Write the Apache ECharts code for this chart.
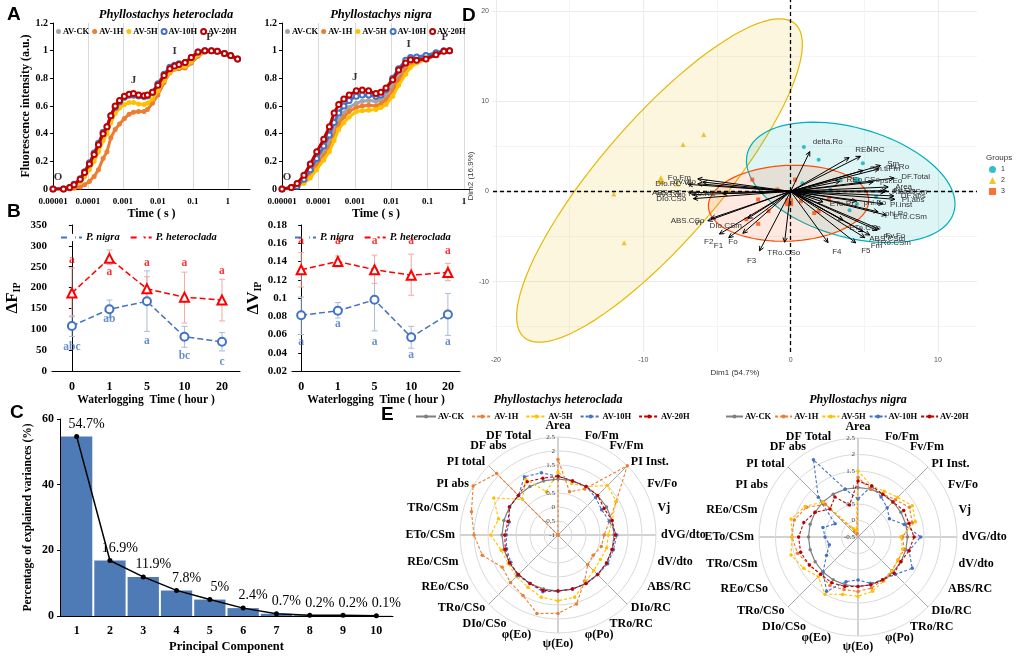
<!DOCTYPE html>
<html><head><meta charset="utf-8">
<script src="https://cdn.jsdelivr.net/npm/echarts@6/dist/echarts.min.js"></script>
<style>
html,body{margin:0;padding:0;background:#fff;}
#wrap{position:relative;width:1021px;height:657px;overflow:hidden;background:#fff;}
.layer{position:absolute;left:0;top:0;width:1021px;height:657px;}
.tag{position:absolute;font-family:'Liberation Sans',Arial,sans-serif;font-weight:bold;font-size:19px;line-height:19px;color:#000;}
</style></head><body>
<div id="wrap">
<div class="layer" id="cA1"></div>
<div class="layer" id="cA2"></div>
<div class="layer" id="cB1"></div>
<div class="layer" id="cB2"></div>
<div class="layer" id="cC"></div>
<div class="layer" id="cD"></div>
<div class="layer" id="cE1"></div>
<div class="layer" id="cE2"></div>
<div class="tag" style="left:7px;top:4px">A</div>
<div class="tag" style="left:7px;top:201px">B</div>
<div class="tag" style="left:10px;top:402px">C</div>
<div class="tag" style="left:462px;top:5px">D</div>
<div class="tag" style="left:381px;top:404px">E</div>
</div>
<script>
// ---------------- DATA ----------------
const treatments = ['AV-CK','AV-1H','AV-5H','AV-10H','AV-20H'];

// Panel A: OJIP transients (time in s, relative fluorescence)
const A_het_time = [1e-5,2e-5,3e-5,4e-5,6e-5,8e-5,1.1e-4,1.5e-4,2e-4,2.7e-4,3.5e-4,4.5e-4,6e-4,8e-4,1.1e-3,1.5e-3,2e-3,2.8e-3,4e-3,5e-3,7e-3,1e-2,1.5e-2,2.2e-2,3e-2,4e-2,6e-2,9e-2,0.14,0.22,0.34,0.5,0.8,1.2,1.9];
const A_het_CK  = [0,0,0.01,0.03,0.065,0.11,0.17,0.24,0.31,0.39,0.44,0.52,0.58,0.62,0.655,0.67,0.67,0.665,0.66,0.665,0.69,0.745,0.82,0.87,0.89,0.90,0.91,0.945,0.985,1.0,1.0,0.995,0.98,0.965,0.94];
const A_het_1H  = [0,0,0,0.005,0.015,0.03,0.055,0.09,0.14,0.22,0.27,0.37,0.43,0.47,0.51,0.54,0.555,0.56,0.56,0.575,0.62,0.68,0.77,0.84,0.865,0.87,0.875,0.91,0.96,0.99,1.0,0.995,0.98,0.96,0.935];
const A_het_5H  = [0,0,0.008,0.025,0.05,0.09,0.14,0.2,0.27,0.35,0.4,0.48,0.545,0.585,0.61,0.625,0.625,0.615,0.61,0.62,0.65,0.71,0.785,0.845,0.87,0.88,0.885,0.92,0.97,0.995,1.0,0.995,0.98,0.965,0.945];
const A_het_10H = [0,0,0.01,0.035,0.075,0.125,0.19,0.26,0.33,0.41,0.45,0.53,0.59,0.63,0.665,0.68,0.68,0.675,0.67,0.675,0.7,0.76,0.83,0.88,0.895,0.905,0.915,0.95,0.99,1.0,1.0,0.995,0.98,0.965,0.94];
const A_het_20H = [0,0,0.01,0.03,0.07,0.12,0.18,0.25,0.32,0.4,0.45,0.53,0.6,0.64,0.67,0.685,0.69,0.68,0.675,0.68,0.7,0.75,0.82,0.87,0.89,0.9,0.915,0.95,0.99,1.0,1.0,0.995,0.98,0.965,0.94];
const A_het_steps = [[1e-5,0,'O'],[2e-3,0.69,'J'],[3e-2,0.9,'I'],[0.3,1.0,'P']];

const A_nig_time = [1e-5,1.8e-5,2.6e-5,4e-5,6e-5,9e-5,1.4e-4,2e-4,2.7e-4,3.6e-4,5e-4,7e-4,1.1e-3,1.6e-3,2.4e-3,3.8e-3,5.2e-3,7.2e-3,1.1e-2,1.6e-2,2.5e-2,3.4e-2,5e-2,9e-2,0.17,0.28,0.4];
const A_nig_CK  = [0,0.01,0.02,0.06,0.12,0.19,0.27,0.34,0.42,0.5,0.55,0.59,0.62,0.635,0.64,0.635,0.645,0.68,0.75,0.83,0.89,0.92,0.94,0.955,0.98,0.995,1.0];
const A_nig_1H  = [0,0.01,0.02,0.05,0.1,0.17,0.24,0.3,0.38,0.47,0.52,0.56,0.59,0.6,0.605,0.6,0.615,0.645,0.71,0.79,0.86,0.9,0.92,0.94,0.97,0.995,1.0];
const A_nig_5H  = [0,0.01,0.02,0.04,0.08,0.14,0.21,0.27,0.35,0.43,0.48,0.52,0.56,0.565,0.57,0.575,0.59,0.61,0.67,0.75,0.83,0.88,0.91,0.935,0.97,0.995,1.0];
const A_nig_10H = [0,0.01,0.02,0.07,0.14,0.22,0.31,0.39,0.48,0.55,0.6,0.64,0.67,0.68,0.68,0.67,0.68,0.72,0.8,0.87,0.93,0.95,0.955,0.965,0.985,1.0,1.0];
const A_nig_20H = [0,0.01,0.04,0.1,0.18,0.27,0.36,0.45,0.55,0.61,0.65,0.68,0.71,0.715,0.71,0.69,0.7,0.73,0.79,0.86,0.91,0.935,0.93,0.94,0.97,0.995,1.0];
const A_nig_steps = [[1e-5,0,'O'],[1e-3,0.71,'J'],[3e-2,0.95,'I'],[0.3,1.0,'P']];

// Panel B
const B_hours = ['0','1','5','10','20'];
const F_nig = [108,148,167,82,70];
const F_nig_lo = [83,128,95,57,48];
const F_nig_hi = [130,170,240,107,92];
const F_nig_letters = ['abc','ab','a','bc','c'];
const F_nig_letterY = [58,125,72,36,22];
const F_het = [187,270,197,177,170];
const F_het_lo = [132,255,172,115,120];
const F_het_hi = [247,290,226,237,220];
const F_het_letters = ['a','a','a','a','a'];
const F_het_letterY = [266,237,259,259,240];

const V_nig = [0.081,0.086,0.098,0.057,0.082];
const V_nig_lo = [0.060,0.078,0.064,0.045,0.059];
const V_nig_hi = [0.101,0.095,0.132,0.069,0.105];
const V_nig_letters = ['a','a','a','a','a'];
const V_nig_letterY = [0.052,0.071,0.052,0.037,0.052];
const V_het = [0.131,0.140,0.131,0.125,0.128];
const V_het_lo = [0.112,0.134,0.116,0.103,0.119];
const V_het_hi = [0.150,0.146,0.147,0.148,0.138];
const V_het_letters = ['a','a','a','a','a'];
const V_het_letterY = [0.162,0.162,0.162,0.162,0.152];

// Panel C
const pcs = ['1','2','3','4','5','6','7','8','9','10'];
const explained = [54.7,16.9,11.9,7.8,5,2.4,0.7,0.2,0.2,0.1];

// Panel D: PCA biplot
const varNames = ['N','REo.RC','delta.Ro','Sm','phi.Ro','Sm.t.Fm','DF.Total','REo.CSo','psi.Eo','Area','Fv.Fm','REo.CSm','DF.abs','PI.abs','PI.inst','ETo.CSm','phi.Eo','phi.Po','Fv.Fo','Fv','TRo.CSm','Fm','F5','ABS.CSm','ETo.CSo','ETo.RC','F4','TRo.CSo','F3','Fo','F1','F2','Vi','ABS.CSo','DIo.CSm','DIo.RC','ABS.RC','dVG.dto','Fo.Fm','dV.dto','Vj','DIo.CSo','TRo.RC'];
const varX = [4.74,3.97,1.3,6.10,6.01,4.92,7.03,3.33,5.6,6.62,6.5,6.4,7.0,7.07,6.28,6.5,4.47,5.94,6.0,5.87,5.37,5.03,4.42,4.92,3.56,2.2,2.54,-0.41,-2.11,-3.24,-4.2,-4.83,-5.62,-5.4,-2.9,-6.94,-6.92,-6.64,-6.3,-5.96,-6.3,-6.6,-4.6];
const varY = [3.88,3.74,4.4,2.86,2.49,2.31,1.47,1.10,1.03,0.48,0.07,-0.07,-0.51,-0.88,-1.39,-2.64,-1.10,-2.27,-4.18,-4.32,-4.84,-5.13,-5.71,-4.47,-3.19,-1.17,-5.68,-5.64,-6.59,-4.65,-5.13,-4.73,-3.26,-3.0,-3.0,0.77,-0.15,-0.37,1.39,1.03,0.84,-0.81,-0.26];
const g1X = [0.9,1.9,4.9,0.8,3.4,4.5,4.0,2.7,5.8,1.5];
const g1Y = [4.9,3.5,3.1,0.9,1.2,-1.4,-2.1,0.2,-0.6,-0.2];
const g2X = [-5.9,-7.3,-7.7,-12.0,-11.3];
const g2Y = [6.3,5.2,0.8,-0.3,-5.7];
const g3X = [-2.6,0.3,-0.9,-2.2,-1.5,-3.0,-2.2,0.7,1.6,1.9,2.6,0.5];
const g3Y = [1.3,1.3,0.2,-0.9,-2.2,-3.1,-3.6,-1.1,-2.4,-2.2,-0.9,-0.4];
const groupMeans = [[4.5,1.2],[-8.8,1.3],[-0.1,-1.2]];
// ellipse: centre (x,y), semi-axis vector u, conjugate vector v (data units)
const ellipses = [
  [-8.9, 1.2, 9.18, 17.4, 3.13, -4.29],
  [4.08, 0.99, 7.0, -3.3, -1.05, -5.8],
  [-0.14, -1.32, 5.44, 0.3, 0.0, 4.2]
];

// Panel E: radar (axes listed clockwise from the top)
const E_het_axes = ['Area','Fo/Fm','Fv/Fm','PI Inst.','Fv/Fo','Vj','dVG/dto','dV/dto','ABS/RC','DIo/RC','TRo/RC','φ(Po)','ψ(Eo)','φ(Eo)','DIo/CSo','TRo/CSo','REo/CSo','REo/CSm','ETo/CSm','TRo/CSm','PI abs','PI total','DF abs','DF Total'];
const E_het_CK  = [1,1,1,1,1,1,1,1,1,1,1,1,1,1,1,1,1,1,1,1,1,1,1,1];
const E_het_1H  = [1.7,0.6,0.9,2.5,1.4,0.9,0.65,0.6,0.45,0.5,0.9,1.55,1.8,1.9,1.5,1.4,1.3,1.8,2.0,2.2,2.5,2.1,-1,-1];
const E_het_5H  = [1.25,0.9,1.0,1.5,1.4,1.0,0.8,0.8,0.75,0.8,0.95,1.3,1.35,1.3,1.15,1.1,1.05,1.1,1.4,1.2,1.65,0.8,1.3,0.6];
const E_het_10H = [1.1,1.0,1.0,0.9,0.8,0.9,1.1,1.05,1.05,1.0,1.0,1.0,1.0,1.1,1.0,1.05,0.95,0.9,0.85,0.8,1.0,1.0,1.4,1.3];
const E_het_20H = [1.1,1.0,1.0,1.0,0.9,1.0,1.05,1.0,1.0,1.0,1.0,1.0,1.0,1.05,1.0,1.0,1.0,0.95,0.9,0.85,1.0,1.0,1.2,1.1];

const E_nig_axes = ['Area','Fo/Fm','Fv/Fm','PI Inst.','Fv/Fo','Vj','dVG/dto','dV/dto','ABS/RC','DIo/RC','TRo/RC','φ(Po)','ψ(Eo)','φ(Eo)','DIo/CSo','TRo/CSo','REo/CSo','TRo/CSm','ETo/CSm','REo/CSm','PI abs','PI total','DF abs','DF Total'];
const E_nig_CK  = [1,1,1,1,1,1,1,1,1,1,1,1,1,1,1,1,1,1,1,1,1,1,1,1];
const E_nig_1H  = [1.3,1.0,1.0,1.1,1.3,1.2,0.85,0.95,0.9,0.95,1.0,1.1,1.15,1.15,1.2,1.1,1.2,1.4,1.5,1.5,1.3,0.9,-0.3,-0.4];
const E_nig_5H  = [1.5,1.1,1.1,1.2,1.4,1.3,0.8,0.9,0.9,0.95,1.05,1.2,1.3,1.3,1.5,1.2,1.4,1.6,1.5,1.6,1.35,1.0,-0.2,-0.3];
const E_nig_10H = [0.65,1.1,0.9,0.75,0.6,0.95,1.4,1.1,1.4,1.1,1.0,0.95,0.8,0.9,1.4,1.0,0.6,0.4,0.5,0.6,0.3,1.2,2.2,1.0];
const E_nig_20H = [1.2,1.1,1.0,1.0,1.1,1.1,1.2,1.1,1.0,1.05,1.0,1.0,1.0,1.05,1.1,1.1,1.2,1.3,1.3,1.2,1.0,0.7,0.9,0.5];

// ---------------- STYLE ----------------
const SERIF = "'Liberation Serif','Times New Roman',serif";
const SANS = "'Liberation Sans',Arial,sans-serif";
const colA = ['#A5A5A5','#ED7D31','#FFC000','#4472C4','#C00000'];
const colE = ['#7F7F7F','#ED7D31','#FFC000','#4472C4','#C00000'];
const bold = (s, extra) => Object.assign({fontFamily:SERIF, fontWeight:'bold', fontSize:s, color:'#000'}, extra||{});

function mk(id){ return echarts.init(document.getElementById(id), null, {width:1021, height:657, renderer:'canvas'}); }
function decadeLabel(v){ const e = Math.round(Math.log10(v)); return e >= 0 ? String(Math.pow(10,e)) : '0.' + '0'.repeat(-e-1) + '1'; }

// ---------------- A ----------------
function ojip(cfg){
  const series = treatments.map((n,i)=>({
    name:n, type:'line', z:2+i,
    data: cfg.time.map((t,j)=>[t, cfg.vals[i][j]]),
    symbol: i>=3 ? 'emptyCircle' : 'circle', symbolSize: 5, showSymbol:true,
    lineStyle:{color:colA[i], width:3}, itemStyle:{color:colA[i], borderWidth: i>=3 ? 1.3 : 0}
  }));
  series.push({type:'scatter', z:10, symbolSize:0.1, itemStyle:{color:'transparent'},
    data: cfg.steps.map((s,k)=>({value:s, label:{offset: k===0 ? [5,0] : [0,-2]}})),
    label:{show:true, position:'top', distance:6, formatter:p=>p.value[2], textStyle:bold(11)}});
  return {
    animation:false,
    graphic:[{type:'text', x:cfg.titleX, y:8, style:{text:cfg.title, textAlign:'center', fill:'#000', font:"italic bold 12.5px "+SERIF}}],
    legend:{left:cfg.legendLeft, top:27, itemWidth:5, itemHeight:5, itemGap:3, padding:0,
      textStyle:bold(8.5,{padding:[0,0,0,-3]}),
      data: treatments.map((n,i)=>({name:n, icon: i>=3 ? 'emptyCircle' : 'circle'}))},
    grid:cfg.grid,
    xAxis:{type:'log', logBase:10, min:1e-5, max:cfg.max, splitNumber:6,
      axisLine:{lineStyle:{color:'#000'}}, axisTick:{show:false},
      axisLabel:{formatter:decadeLabel, showMaxLabel:false, margin:8, textStyle:bold(9)},
      splitLine:{show:true, showMaxLine:false, lineStyle:{color:'#d9d9d9'}},
      name:'Time ( s )', nameLocation:'middle', nameGap:19, nameTextStyle:bold(12)},
    yAxis:{type:'value', min:0, max:1.2, interval:0.2,
      axisLine:{show:true, lineStyle:{color:'#000'}}, axisTick:{show:true, length:3, lineStyle:{color:'#000'}},
      splitLine:{show:false}, axisLabel:{margin:5, textStyle:bold(10)},
      name:cfg.yName, nameLocation:'middle', nameGap:19, nameTextStyle:bold(12)},
    series
  };
}
mk('cA1').setOption(ojip({time:A_het_time, vals:[A_het_CK,A_het_1H,A_het_5H,A_het_10H,A_het_20H], steps:A_het_steps,
  grid:{left:53, top:23, width:197, height:166}, max:4.3, title:'Phyllostachys heteroclada', titleX:166, legendLeft:56,
  yName:'Fluorescence intensity (a.u.)'}));
mk('cA2').setOption(ojip({time:A_nig_time, vals:[A_nig_CK,A_nig_1H,A_nig_5H,A_nig_10H,A_nig_20H], steps:A_nig_steps,
  grid:{left:282, top:23, width:188, height:166}, max:1.46, title:'Phyllostachys nigra', titleX:381, legendLeft:285,
  yName:''}));

// ---------------- B ----------------
function errRender(color){
  return function(params, api){
    const x = api.value(0), lo = api.value(1), hi = api.value(2);
    const a = api.coord([x,hi]), b = api.coord([x,lo]); const w = 3;
    const st = {stroke:color, lineWidth:1};
    return {type:'group', children:[
      {type:'line', shape:{x1:a[0],y1:a[1],x2:b[0],y2:b[1]}, style:st},
      {type:'line', shape:{x1:a[0]-w,y1:a[1],x2:a[0]+w,y2:a[1]}, style:st},
      {type:'line', shape:{x1:b[0]-w,y1:b[1],x2:b[0]+w,y2:b[1]}, style:st}]};
  };
}
function bChart(cfg){
  const idx = B_hours.map((h,i)=>i);
  const letters = (ys, ls, color) => ({type:'scatter', z:10, symbolSize:0.1, itemStyle:{color:'transparent'},
    data: idx.map(i=>[i, ys[i], ls[i]]),
    label:{show:true, position:'inside', formatter:p=>p.value[2], textStyle:bold(11.5,{color})}});
  return {
    animation:false,
    legend:{left:cfg.legendLeft, top:232, itemWidth:21, itemHeight:7, itemGap:10, padding:0,
      textStyle:bold(10.5,{fontStyle:'italic', padding:[0,0,0,-1]}),
      data:[{name:'P. nigra', itemStyle:{color:'#fff', borderColor:'#4472C4', borderWidth:1.2}},
            {name:'P. heteroclada', itemStyle:{color:'#fff', borderColor:'#FF0000', borderWidth:1.2}}]},
    grid:cfg.grid,
    xAxis:{type:'value', min:cfg.xmin, max:cfg.xmax, axisLine:{lineStyle:{color:'#000'}}, axisTick:{show:false},
      splitLine:{show:false},
      axisLabel:{customValues:idx, formatter:v=>B_hours[v], margin:10, textStyle:bold(12)},
      name:'Waterlogging  Time ( hour )', nameLocation:'middle', nameGap:22, nameTextStyle:bold(11.5)},
    yAxis:{type:'value', min:cfg.ymin, max:cfg.ymax, interval:cfg.yint,
      axisLine:{show:true, lineStyle:{color:'#000'}}, axisTick:{show:true, length:3, lineStyle:{color:'#000'}},
      splitLine:{show:false}, axisLabel:{margin:5, textStyle:bold(11)},
      name:cfg.yName, nameLocation:'middle', nameGap:cfg.nameGap,
      nameTextStyle:{rich:{d:bold(17), s:bold(10,{verticalAlign:'bottom', padding:[8,0,0,0]})}}},
    series:[
      {type:'custom', renderItem:errRender('#A8BCD8'), encode:{x:0, y:[1,2]}, data: idx.map(i=>[i, cfg.nlo[i], cfg.nhi[i]]), z:1},
      {type:'custom', renderItem:errRender('#F2A7A7'), encode:{x:0, y:[1,2]}, data: idx.map(i=>[i, cfg.hlo[i], cfg.hhi[i]]), z:1},
      {name:'P. nigra', type:'line', z:3, data: idx.map(i=>[i, cfg.n[i]]), symbol:'emptyCircle', symbolSize:8,
        lineStyle:{color:'#4472C4', width:1.5, type:[6,3]}, itemStyle:{color:'#4472C4', borderWidth:1.2}},
      {name:'P. heteroclada', type:'line', z:3, data: idx.map(i=>[i, cfg.h[i]]), symbol:'emptyTriangle', symbolSize:9,
        lineStyle:{color:'#FF0000', width:1.5, type:[6,3]}, itemStyle:{color:'#FF0000', borderWidth:1.2}},
      letters(cfg.nly, cfg.nl, '#4472C4'),
      letters(cfg.hly, cfg.hl, '#FF0000')
    ]
  };
}
mk('cB1').setOption(bChart({grid:{left:52, top:225, width:188, height:146}, xmin:-0.53, xmax:4.48, ymin:0, ymax:350, yint:50,
  yName:'{d|ΔF}{s|IP}', nameGap:30, legendLeft:60,
  n:F_nig, nlo:F_nig_lo, nhi:F_nig_hi, nl:F_nig_letters, nly:F_nig_letterY,
  h:F_het, hlo:F_het_lo, hhi:F_het_hi, hl:F_het_letters, hly:F_het_letterY}));
mk('cB2').setOption(bChart({grid:{left:292, top:225, width:168, height:146}, xmin:-0.25, xmax:4.33, ymin:0.02, ymax:0.18, yint:0.02,
  yName:'{d|ΔV}{s|IP}', nameGap:29, legendLeft:294,
  n:V_nig, nlo:V_nig_lo, nhi:V_nig_hi, nl:V_nig_letters, nly:V_nig_letterY,
  h:V_het, hlo:V_het_lo, hhi:V_het_hi, hl:V_het_letters, hly:V_het_letterY}));

// ---------------- C ----------------
mk('cC').setOption({
  animation:false,
  grid:{left:60, top:419, width:333, height:197},
  xAxis:{type:'category', data:pcs, axisTick:{show:false}, axisLine:{lineStyle:{color:'#000'}},
    axisLabel:{margin:9, textStyle:bold(12)},
    name:'Principal Component', nameLocation:'middle', nameGap:24, nameTextStyle:bold(12.5)},
  yAxis:{type:'value', min:0, max:60, interval:20, axisLine:{show:true, lineStyle:{color:'#000'}},
    axisTick:{show:true, length:3, lineStyle:{color:'#000'}}, splitLine:{show:false}, axisLabel:{margin:6, textStyle:bold(12)},
    name:'Percentage of explained variances (%)', nameLocation:'middle', nameGap:26, nameTextStyle:bold(11.5)},
  series:[
    {type:'bar', data:explained, barCategoryGap:'6%', itemStyle:{color:'#4E7AB5'}},
    {type:'line', data:explained, symbol:'circle', symbolSize:5, lineStyle:{color:'#000', width:1.5}, itemStyle:{color:'#000'},
      label:{show:true, position:'top', distance:3, offset:[10,0], formatter:p=>p.value+'%', fontFamily:SERIF, fontSize:14, color:'#000'}}
  ]
});

// ---------------- D ----------------
const ellStyle = [
  {fill:'rgba(0,175,187,0.13)', stroke:'#00AFBB'},
  {fill:'rgba(231,184,0,0.13)', stroke:'#E7B800'},
  {fill:'rgba(252,78,7,0.13)', stroke:'#FC4E07'}
];
const ellGroup = [1,0,2];
mk('cD').setOption({
  animation:false,
  graphic:[{type:'text', x:986, y:154, style:{text:'Groups', fill:'#333', font:'8px '+SANS}}],
  legend:{orient:'vertical', left:989, top:166, itemWidth:7, itemHeight:7, itemGap:4, padding:0,
    textStyle:{fontFamily:SANS, fontSize:7, color:'#333'}, data:['1','2','3']},
  grid:{left:493, top:0, width:484, height:352},
  xAxis:{type:'value', min:-20.2, max:12.65, splitNumber:3, axisLine:{show:false}, axisTick:{show:false},
    axisLabel:{showMinLabel:false, showMaxLabel:false, margin:5, fontFamily:SANS, fontSize:7, color:'#555'},
    splitLine:{show:true, showMinLine:false, showMaxLine:false, lineStyle:{color:'#ebebeb'}},
    minorTick:{splitNumber:2}, minorSplitLine:{show:true, lineStyle:{color:'#f4f4f4'}},
    name:'Dim1 (54.7%)', nameLocation:'middle', nameGap:15, nameTextStyle:{fontFamily:SANS, fontSize:8, color:'#333'}},
  yAxis:{type:'value', min:-17.8, max:21.2, splitNumber:4, axisLine:{show:false}, axisTick:{show:false},
    axisLabel:{showMinLabel:false, showMaxLabel:false, margin:4, fontFamily:SANS, fontSize:7, color:'#555'},
    splitLine:{show:true, showMinLine:false, showMaxLine:false, lineStyle:{color:'#ebebeb'}},
    minorTick:{splitNumber:2}, minorSplitLine:{show:true, lineStyle:{color:'#f4f4f4'}},
    name:'Dim2 (16.9%)', nameLocation:'middle', nameGap:16, nameTextStyle:{fontFamily:SANS, fontSize:8, color:'#333'}},
  series:[
    {type:'custom', z:1, clip:false, data:ellipses, encode:{x:0, y:1},
      renderItem:(params, api)=>{
        const e = ellipses[params.dataIndex];
        const pts = [];
        for(let k=0;k<90;k++){ const t=k/90*2*Math.PI; pts.push(api.coord([e[0]+Math.cos(t)*e[2]+Math.sin(t)*e[4], e[1]+Math.cos(t)*e[3]+Math.sin(t)*e[5]])); }
        const s = ellStyle[ellGroup[params.dataIndex]];
        return {type:'polygon', shape:{points:pts}, style:{fill:s.fill, stroke:s.stroke, lineWidth:1.2}};
      }},
    {name:'1', type:'scatter', z:3, symbol:'circle', symbolSize:4, itemStyle:{color:'#00AFBB'},
      data: g1X.map((x,i)=>[x,g1Y[i]]).concat([{value:groupMeans[0], symbolSize:7}]),
      markLine:{silent:true, symbol:['none','none'], label:{show:false}, lineStyle:{type:[4,3], color:'#000', width:1.3},
        data:[{xAxis:0},{yAxis:0}]}},
    {name:'2', type:'scatter', z:3, symbol:'triangle', symbolSize:5, itemStyle:{color:'#E7B800'},
      data: g2X.map((x,i)=>[x,g2Y[i]]).concat([{value:groupMeans[1], symbolSize:9}])},
    {name:'3', type:'scatter', z:3, symbol:'rect', symbolSize:4, itemStyle:{color:'#FC4E07'},
      data: g3X.map((x,i)=>[x,g3Y[i]]).concat([{value:groupMeans[2], symbolSize:8}])},
    {type:'custom', z:5, clip:false, data: varX.map((x,i)=>[x,varY[i]]), encode:{x:0, y:1},
      renderItem:(params, api)=>{
        const o = api.coord([0,0]), p = api.coord([api.value(0), api.value(1)]);
        const a = Math.atan2(p[1]-o[1], p[0]-o[0]); const h = 5;
        const c = Math.cos(a), s = Math.sin(a);
        const head = [[p[0]-h*Math.cos(a-0.45), p[1]-h*Math.sin(a-0.45)], p, [p[0]-h*Math.cos(a+0.45), p[1]-h*Math.sin(a+0.45)]];
        return {type:'group', children:[
          {type:'line', shape:{x1:o[0],y1:o[1],x2:p[0],y2:p[1]}, style:{stroke:'#000', lineWidth:1}},
          {type:'polyline', shape:{points:head}, style:{stroke:'#000', lineWidth:1, fill:null}},
          {type:'text', x:p[0]+c*7, y:p[1]+s*7, style:{text:varNames[params.dataIndex], fill:'#333', font:'8px '+SANS,
            align: c>0.35?'left':(c<-0.35?'right':'center'), verticalAlign: s>0.35?'top':(s<-0.35?'bottom':'middle')}}
        ]};
      }}
  ]
});

// ---------------- E ----------------
function radarChart(cfg){
  // ECharts lays radar axes counter-clockwise; the reference runs clockwise from the top
  const ord = [0].concat(cfg.axes.map((a,k)=>k).slice(1).reverse());
  return {
    animation:false,
    graphic:[{type:'text', x:cfg.center[0], y:394, style:{text:cfg.title, textAlign:'center', fill:'#000', font:"italic bold 12px "+SERIF}}],
    legend:{left:cfg.legendLeft, top:412, itemWidth:cfg.legW, itemHeight:5, itemGap:cfg.legGap, padding:0,
      textStyle:bold(8.5,{padding:[0,0,0,-3]}), data:treatments},
    radar:{center:cfg.center, radius:cfg.radius, startAngle:90, shape:'circle', splitNumber:cfg.split,
      indicator: ord.map(k=>({name:cfg.axes[k], min:cfg.min, max:2.5})),
      axisName:{fontFamily:SERIF, fontWeight:'bold', fontSize:12, color:'#000'}, nameGap:5,
      splitLine:{lineStyle:{color:'#d9d9d9'}}, splitArea:{show:false}, axisLine:{show:false},
      axisTick:{show:false}, axisLabel:{show:false}},
    polar:{center:cfg.center, radius:cfg.radius},
    angleAxis:{type:'value', min:0, max:360, interval:45, startAngle:90,
      axisLine:{show:false}, axisTick:{show:false}, axisLabel:{show:false}, splitLine:{show:true, lineStyle:{color:'#a6a6a6'}}},
    radiusAxis:{type:'value', min:cfg.min, max:2.5, interval:0.5, z:5,
      axisLine:{show:false}, axisTick:{show:false}, splitLine:{show:false},
      axisLabel:{fontFamily:SERIF, fontSize:7, color:'#404040', margin:3}},
    series: treatments.map((n,i)=>({type:'line', coordinateSystem:'polar', name:n, data:[], symbol:'circle', symbolSize:4,
        lineStyle:{color:colE[i], width:1.2, type: i===0 ? 'solid' : [3,2]}, itemStyle:{color:colE[i]}}))
      .concat([{type:'radar', name:'radar', z:4, symbol:'circle', symbolSize:3.5,
        data: treatments.map((n,i)=>({name:n, value:ord.map(k=>cfg.vals[i][k]),
          lineStyle:{color:colE[i], width:1.1, type: i===0 ? 'solid' : [3,2]}, itemStyle:{color:colE[i]}}))}])
  };
}
mk('cE1').setOption(radarChart({center:[558,535], radius:98, split:7, min:-1, axes:E_het_axes, legendLeft:415, legW:20, legGap:7,
  title:'Phyllostachys heteroclada', vals:[E_het_CK,E_het_1H,E_het_5H,E_het_10H,E_het_20H]}));
mk('cE2').setOption(radarChart({center:[858,537], radius:99, split:6, min:-0.5, axes:E_nig_axes, legendLeft:725, legW:17, legGap:3,
  title:'Phyllostachys nigra', vals:[E_nig_CK,E_nig_1H,E_nig_5H,E_nig_10H,E_nig_20H]}));
</script>
</body></html>
